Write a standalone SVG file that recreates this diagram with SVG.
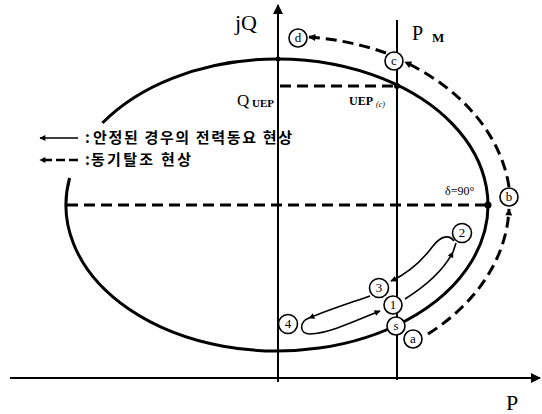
<svg xmlns="http://www.w3.org/2000/svg" width="542" height="414" viewBox="0 0 542 414">
<style>
.axis{stroke:#000;stroke-width:2;fill:none}
.ell{stroke:#000;stroke-width:3;fill:none}
.dash{stroke:#000;stroke-width:3;fill:none;stroke-dasharray:11 6}
.thin{stroke:#000;stroke-width:1.6;fill:none}
.node circle{fill:#fff;stroke:#000;stroke-width:1.6}
.node text{font-family:"Liberation Serif",serif;font-size:13px;text-anchor:middle;fill:#000}
.lbl{font-family:"Liberation Serif",serif;fill:#000}
.kr{font-family:"Noto Sans CJK KR","Noto Sans",sans-serif;font-size:15px;font-weight:bold;fill:#000}
</style>
<defs>
<marker id="big" viewBox="0 0 10 10" refX="9" refY="5" markerWidth="13" markerHeight="10" markerUnits="userSpaceOnUse" orient="auto"><path d="M0,0 L10,5 L0,10 z" fill="#000"/></marker>
<marker id="ah" viewBox="0 0 10 10" refX="9" refY="5" markerWidth="9" markerHeight="7" markerUnits="userSpaceOnUse" orient="auto"><path d="M0,0 L10,5 L0,10 z" fill="#000"/></marker>
<marker id="sm" viewBox="0 0 10 10" refX="9" refY="5" markerWidth="7" markerHeight="6" markerUnits="userSpaceOnUse" orient="auto"><path d="M0,0 L10,5 L0,10 z" fill="#000"/></marker>
</defs>

<g id="axes">
<line class="axis" x1="10" y1="378" x2="540" y2="378" marker-end="url(#big)"/>
<line class="axis" x1="278" y1="382" x2="278" y2="5" marker-end="url(#big)"/>
<line class="axis" x1="397" y1="20" x2="397" y2="380"/>
<text class="lbl" x="235" y="30" font-size="22">jQ</text>
<text class="lbl" x="506" y="410" font-size="22">P</text>
<text class="lbl" x="412" y="40" font-size="20">P</text>
<text class="lbl" x="432" y="42" font-size="13" font-weight="bold">M</text>
</g>

<g id="curve">
<path class="ell" d="M102.4,123 A211 146 0 1 1 69.6,178"/>
<circle cx="278" cy="59" r="2.5"/>
</g>

<g id="levels">
<line class="dash" x1="67" y1="205" x2="488" y2="205"/>
<circle cx="488" cy="205" r="3.5"/>
<text class="lbl" x="445" y="195" font-size="12">δ=90°</text>
<line class="dash" x1="280" y1="86" x2="396" y2="86"/>
<circle cx="397" cy="86" r="3"/>
<text class="lbl" x="237" y="106" font-size="17">Q</text>
<text class="lbl" x="252" y="107" font-size="11" font-weight="bold">UEP</text>
<text class="lbl" x="349" y="105" font-size="12" font-weight="bold">UEP</text>
<text class="lbl" x="376" y="107" font-size="8" font-style="italic">(c)</text>
</g>

<g id="legend">
<line class="thin" x1="78" y1="138" x2="40" y2="138" stroke-width="2" marker-end="url(#sm)"/>
<line x1="78" y1="160" x2="40" y2="160" stroke="#000" stroke-width="2.5" stroke-dasharray="9 4" marker-end="url(#sm)"/>
<text class="kr" x="85" y="143">:</text>
<text class="kr" x="93" y="143" textLength="199" lengthAdjust="spacing">안정된 경우의 전력동요 현상</text>
<text class="kr" x="85" y="165">:</text>
<text class="kr" x="91" y="165" textLength="100" lengthAdjust="spacing">동기탈조 현상</text>
</g>

<g id="connectors">
<path class="dash" d="M428,334 A232 172 0 0 0 509,209" marker-end="url(#ah)"/>
<path class="dash" d="M509,187 A232 172 0 0 0 405,62" marker-end="url(#ah)"/>
<path class="dash" d="M386,53 A232 172 0 0 0 309,37" marker-end="url(#ah)"/>
<path class="thin" d="M405,299 Q440,277 453,252" marker-end="url(#sm)"/>
<path class="thin" d="M453,252 L456,243"/>
<path class="thin" d="M454,241 C449,234 441,236 433,246 C421,262 409,273 391,281" marker-end="url(#sm)"/>
<path class="thin" d="M370,296 C350,303 328,310 309,318" marker-end="url(#sm)"/>
<path class="thin" d="M309,318 C299,322 299,334 310,334 C330,333 355,321 380,311" marker-end="url(#sm)"/>
</g>

<g id="node-d" class="node"><circle cx="298" cy="38" r="9"/><text x="298" y="42">d</text></g>
<g id="node-c" class="node"><circle cx="394" cy="61" r="9"/><text x="394" y="65">c</text></g>
<g id="node-b" class="node"><circle cx="509" cy="197" r="9"/><text x="509" y="201">b</text></g>
<g id="node-a" class="node"><circle cx="413" cy="339" r="9"/><text x="413" y="343">a</text></g>
<g id="node-s" class="node"><circle cx="396" cy="326" r="9"/><text x="396" y="330">s</text></g>
<g id="node-1" class="node"><circle cx="393" cy="305" r="9"/><text x="393" y="309">1</text></g>
<g id="node-3" class="node"><circle cx="379" cy="288" r="9.5"/><text x="379" y="292">3</text></g>
<g id="node-2" class="node"><circle cx="462" cy="233" r="9.5"/><text x="462" y="237">2</text></g>
<g id="node-4" class="node"><circle cx="288" cy="324" r="9.5"/><text x="288" y="328">4</text></g>
</svg>
